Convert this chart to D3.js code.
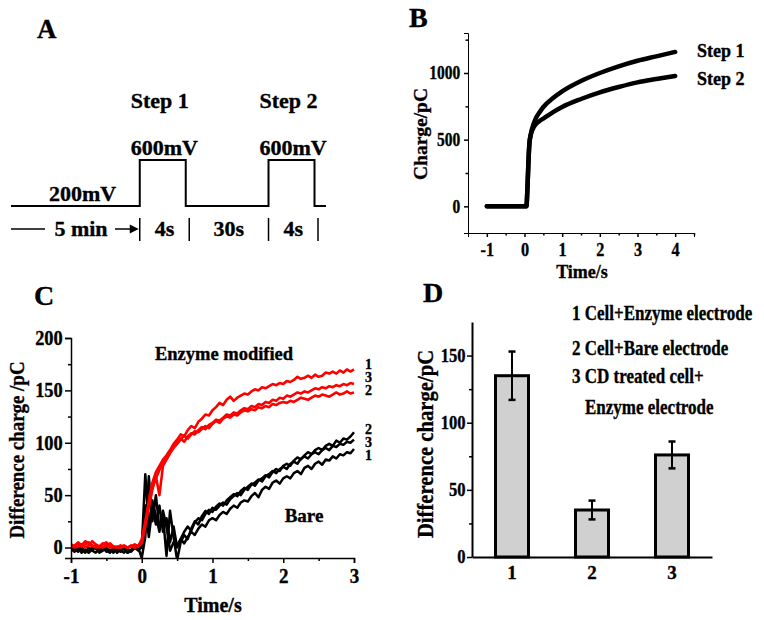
<!DOCTYPE html>
<html><head><meta charset="utf-8">
<script src="https://cdn.jsdelivr.net/npm/d3@7"></script>
<style>
body{margin:0;background:#fff}
svg text{font-family:"Liberation Serif","Times New Roman",serif;font-weight:bold;fill:#000;stroke:#000;stroke-width:0.35px}
</style>
</head><body><svg id="chart" width="764" height="620"></svg>
<script>
// ---------- Panel A : potential protocol (schematic) ----------
const phaseLabels = ["5 min", "4s", "30s", "4s", ""];
const phasePotentials = [200, 600, 200, 600, 200];   // mV
const phaseUnits = [2.8, 1, 1.8, 1, 0.25];           // schematic widths
const stepLabels = ["Step 1", "Step 2"];

// ---------- Panel B : charge vs time ----------
const timeB = [-1, -0.5, 0, 0.05, 0.08, 0.1, 0.13, 0.17, 0.22, 0.3, 0.4, 0.5, 0.75, 1, 1.5, 2, 2.5, 3, 3.5, 4];
const step1 = [0, 0, 0, 0, 150, 300, 470, 545, 600, 660, 705, 745, 810, 862, 940, 1000, 1050, 1092, 1125, 1158];
const step2 = [0, 0, 0, 0, 150, 300, 470, 540, 580, 615, 640, 658, 705, 745, 805, 855, 895, 930, 955, 978];
const ticksB_x = [-1, 0, 1, 2, 3, 4];
const ticksB_y = [0, 500, 1000];

// ---------- Panel C : difference charge vs time (step 0.05 s from -1 to 3 s) ----------
const timeC = d3.range(81).map(i => -1 + i * 0.05);
const enzyme1 = [3,1,5,2,6,4,1,2,0,3,5,1,0,1,0,2,0,1,0,2,
  5,22,45,62,72,78,84,88,93,99,103,108,106,112,116,114,120,123,127,126,
  131,134,138,136,141,144,140,143,145,147,146,149,151,150,153,152,154,156,155,157,
  156,159,158,160,163,161,162,164,162,165,163,164,167,166,168,166,169,167,170,168,170];
const enzyme3 = [0,2,4,1,3,5,2,0,1,4,2,0,1,0,2,1,0,1,3,1,
  8,25,42,58,66,74,80,86,91,96,100,104,101,106,109,108,112,115,113,117,
  119,122,121,124,127,126,129,128,131,133,132,135,134,137,136,139,138,141,140,143,
  142,145,144,146,148,147,149,148,150,152,151,153,152,154,153,155,154,156,155,157,156];
const enzyme2 = [2,0,1,3,0,2,6,3,1,0,2,4,1,0,0,1,0,2,0,1,
  4,20,38,55,68,50,78,84,90,95,99,103,107,104,108,111,110,113,116,114,
  118,121,119,123,125,124,127,126,129,131,130,132,131,134,133,135,134,137,136,138,
  139,138,140,139,141,143,142,141,143,145,144,146,145,144,146,148,146,147,149,147,148];
const bare1 = [-2,0,-4,-1,-5,0,-3,-5,-1,0,-4,-2,-5,0,-3,-5,-1,-4,0,-2,
  0,70,20,45,30,15,35,20,-3,5,2,8,4,10,15,12,18,22,20,26,
  28,26,31,34,32,37,40,38,43,45,44,49,52,48,55,58,56,62,64,61,
  66,68,66,71,73,70,76,78,75,80,82,79,84,83,87,85,89,88,91,90,94];
const bare2 = [-3,-1,0,-5,-2,-4,0,-1,-5,-3,0,-4,-1,-5,-2,0,-5,-3,-1,0,
  -10,10,68,25,50,18,30,-8,35,10,-12,5,12,8,18,25,22,30,35,32,
  38,36,40,43,41,46,49,52,50,55,58,61,59,64,66,69,67,72,75,73,
  78,80,78,83,86,84,88,91,89,93,95,93,97,99,97,102,100,104,103,106,110];
const bare3 = [-1,-4,-2,0,-3,-5,-2,0,-4,-1,-3,-5,0,-2,-4,-1,-5,-2,0,-3,
  2,40,10,38,22,40,15,28,5,20,0,8,15,20,16,24,28,26,32,36,
  34,39,42,40,45,48,51,49,54,57,55,60,62,65,63,68,70,73,71,75,
  77,75,80,82,80,85,87,85,89,91,89,93,95,93,97,96,99,98,101,100,103];
const ticksC_x = [-1, 0, 1, 2, 3];
const ticksC_y = [0, 50, 100, 150, 200];

// ---------- Panel D : bar chart ----------
const categoriesD = ["1", "2", "3"];
const meansD = [135, 35, 76];
const errorsD = [18, 7, 10];
const legendD = ["1 Cell+Enzyme electrode", "2 Cell+Bare electrode", "3 CD treated cell+", "Enzyme electrode"];
const ticksD_y = [0, 50, 100, 150];

const svg = d3.select("#chart");
const fmt = d => String(d);

function label(x, y, s, size, anchor, rot, sx) {
  const t = svg.append("text").attr("font-size", size).attr("text-anchor", anchor || "start").text(s);
  t.attr("transform", `translate(${x},${y}) rotate(${rot || 0}) scale(${sx || 1},1)`);
  return t;
}
function styleAxis(g, size, width, sx) {
  const t = g.selectAll("text").attr("font-size", size).attr("fill", "#000")
    .style("font-family", '"Liberation Serif","Times New Roman",serif').style("font-weight", "bold");
  if (sx) t.attr("transform", `scale(${sx},1)`);
  g.selectAll("path,line").attr("stroke", "#000").attr("stroke-width", width);
}

// ===== Panel A =====
(function () {
  const total = d3.sum(phaseUnits);
  const x = d3.scaleLinear().domain([0, total]).range([11, 326]);
  const y = d3.scaleLinear().domain([200, 600]).range([206, 160]);
  const cum = [0];
  phaseUnits.forEach((u, i) => cum.push(cum[i] + u));
  const pts = [];
  phasePotentials.forEach((p, i) => { pts.push([cum[i], p]); pts.push([cum[i + 1], p]); });
  svg.append("path").attr("d", d3.line().x(d => x(d[0])).y(d => y(d[1]))(pts))
    .attr("fill", "none").attr("stroke", "#000").attr("stroke-width", 2);

  label(37, 38, "A", 27);
  label(49, 201, phasePotentials[0] + "mV", 22);
  [1, 3].forEach((i, k) => {
    const lx = x(cum[i]) - 9;
    label(lx, 155, phasePotentials[i] + "mV", 22);
    label(lx, 108, stepLabels[k], 22);
  });
  // bottom time row
  const by = 229;
  svg.append("line").attr("x1", x(0)).attr("x2", 45).attr("y1", by).attr("y2", by).attr("stroke", "#000").attr("stroke-width", 1.5);
  label(81, 236, phaseLabels[0], 22, "middle");
  svg.append("line").attr("x1", 115).attr("x2", x(cum[1]) - 6).attr("y1", by).attr("y2", by).attr("stroke", "#000").attr("stroke-width", 1.5);
  svg.append("path").attr("d", `M${x(cum[1]) - 1},${by} l-9,-4.5 l0,9 z`).attr("fill", "#000");
  const bars = [1, 2, 3, 4].map(i => x(cum[i]) + (i % 2 === 0 ? 3.5 : 0));
  bars.forEach(bx => svg.append("line").attr("x1", bx).attr("x2", bx).attr("y1", 218).attr("y2", 241).attr("stroke", "#000").attr("stroke-width", 1.5));
  for (let k = 0; k < 3; k++) label((bars[k] + bars[k + 1]) / 2, 236, phaseLabels[k + 1], 22, "middle");
})();

// ===== Panel B =====
(function () {
  const x = d3.scaleLinear().domain([-1.5, 4.5]).range([468, 694]);
  const y = d3.scaleLinear().domain([-200, 1300]).range([233, 33]);
  const gx = svg.append("g").attr("transform", "translate(0,233)")
    .call(d3.axisBottom(x).tickValues(ticksB_x).tickSize(4).tickPadding(6).tickFormat(fmt));
  styleAxis(gx, 18, 1, 0.9);
  gx.append("g").call(d3.axisBottom(x).tickValues([-0.5, 0.5, 1.5, 2.5, 3.5, 4.5]).tickSize(2.5).tickFormat("")).select(".domain").remove();
  const gy = svg.append("g").attr("transform", "translate(468,0)")
    .call(d3.axisLeft(y).tickValues(ticksB_y).tickSize(4).tickPadding(5).tickFormat(fmt));
  styleAxis(gy, 18, 1, 0.86);
  gy.append("g").call(d3.axisLeft(y).tickValues([250, 750, 1250]).tickSize(2.5).tickFormat("")).select(".domain").remove();
  svg.selectAll("g g line").attr("stroke", "#000");

  const line = d3.line().x((d, i) => x(timeB[i])).y(d => y(d)).curve(d3.curveMonotoneX);
  [step1, step2].forEach(s => svg.append("path").attr("d", line(s)).attr("fill", "none")
    .attr("stroke", "#000").attr("stroke-width", 4.5).attr("stroke-linecap", "round"));

  label(409, 27, "B", 28);
  label(697, 57, stepLabels[0], 18);
  label(697, 85, stepLabels[1], 18);
  label(427, 134, "Charge/pC", 19.5, "middle", -90);
  label(582, 278, "Time/s", 18, "middle");
})();

// ===== Panel C =====
(function () {
  const x = d3.scaleLinear().domain([-1, 3]).range([71, 354]);
  const y = d3.scaleLinear().domain([-10, 200]).range([558, 338]);
  svg.append("clipPath").attr("id", "clipC").append("rect").attr("x", 71).attr("y", 330).attr("width", 286).attr("height", 228);
  const line = d3.line().x((d, i) => x(timeC[i])).y(d => y(d));
  const g = svg.append("g").attr("clip-path", "url(#clipC)");
  [bare1, bare2, bare3].forEach(s => g.append("path").attr("d", line(s)).attr("fill", "none")
    .attr("stroke", "#000").attr("stroke-width", 2.5).attr("stroke-linejoin", "round"));
  [enzyme1, enzyme3, enzyme2].forEach(s => g.append("path").attr("d", line(s)).attr("fill", "none")
    .attr("stroke", "#ff0000").attr("stroke-width", 2.6).attr("stroke-linejoin", "round"));

  const gx = svg.append("g").attr("transform", "translate(0,558)")
    .call(d3.axisBottom(x).tickValues(ticksC_x).tickSize(5).tickPadding(6).tickFormat(fmt));
  styleAxis(gx, 20, 1.5, 0.95);
  gx.append("g").call(d3.axisBottom(x).tickValues([-0.5, 0.5, 1.5, 2.5]).tickSize(3).tickFormat("")).select(".domain").remove();
  const gy = svg.append("g").attr("transform", "translate(71,0)")
    .call(d3.axisLeft(y).tickValues(ticksC_y).tickSize(6).tickPadding(3).tickFormat(fmt));
  styleAxis(gy, 20, 1.5, 0.92);
  gy.append("g").call(d3.axisLeft(y).tickValues([25, 75, 125, 175]).tickSize(3).tickFormat("")).select(".domain").remove();
  svg.selectAll("g g line").attr("stroke", "#000").attr("stroke-width", 1.5);

  label(34, 305, "C", 28);
  label(224, 360, "Enzyme modified", 18.5, "middle");
  label(304, 522, "Bare", 19, "middle");
  label(365, 369, "1", 14); label(365, 382, "3", 14); label(365, 395, "2", 14);
  label(365, 434, "2", 14); label(365, 447, "3", 14); label(365, 460, "1", 14);
  label(24, 450, "Difference charge /pC", 22, "middle", -90, 0.86);
  label(213, 612, "Time/s", 20, "middle");
})();

// ===== Panel D =====
(function () {
  const x = d3.scaleBand().domain(categoriesD).range([472, 712]).paddingInner(0.5875).paddingOuter(0.29375);
  const y = d3.scaleLinear().domain([0, 175]).range([557, 322]);
  const bw = x.bandwidth();
  svg.append("g").selectAll("rect").data(meansD).join("rect")
    .attr("x", (d, i) => x(categoriesD[i])).attr("y", d => y(d))
    .attr("width", bw).attr("height", d => y(0) - y(d))
    .attr("fill", "#d0d0d0").attr("stroke", "#000").attr("stroke-width", 3);
  const eg = svg.append("g").attr("stroke", "#000").attr("stroke-width", 2);
  meansD.forEach((m, i) => {
    const cx = x(categoriesD[i]) + bw / 2;
    eg.append("line").attr("x1", cx).attr("x2", cx).attr("y1", y(m + errorsD[i])).attr("y2", y(m - errorsD[i]));
    [m + errorsD[i], m - errorsD[i]].forEach(v => eg.append("line").attr("x1", cx - 3.5).attr("x2", cx + 3.5).attr("y1", y(v)).attr("y2", y(v)).attr("stroke-width", 2.5));
  });
  const gx = svg.append("g").attr("transform", "translate(0,557)")
    .call(d3.axisBottom(x).tickSize(0).tickPadding(9).tickSizeOuter(0));
  styleAxis(gx, 19, 2);
  const gy = svg.append("g").attr("transform", "translate(472,0)")
    .call(d3.axisLeft(y).tickValues(ticksD_y).tickSize(5).tickPadding(2).tickSizeOuter(0).tickFormat(fmt));
  styleAxis(gy, 18, 2, 0.92);
  gy.append("g").call(d3.axisLeft(y).tickValues([25, 75, 125]).tickSize(3).tickFormat("")).select(".domain").remove();
  gy.selectAll("g g line").attr("stroke", "#000").attr("stroke-width", 1.5);

  label(423, 302, "D", 28);
  const lx = [572, 572, 572, 585], ly = [320, 355, 383, 414];
  legendD.forEach((s, i) => label(lx[i], ly[i], s, 21, "start", 0, 0.81));
  label(433, 444, "Difference charge/pC", 24, "middle", -90, 0.86);
})();
</script>
</body></html>
